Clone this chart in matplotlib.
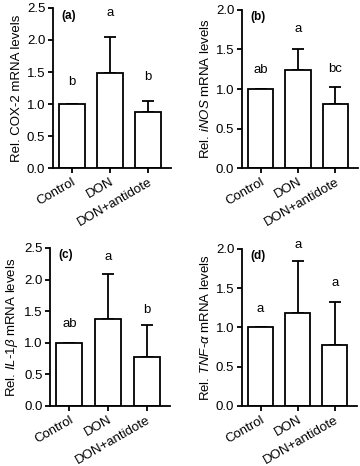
import matplotlib
matplotlib.use("Agg")
import matplotlib.pyplot as plt

plt.rcParams["font.family"] = ["Liberation Sans", "DejaVu Sans"]
plt.rcParams["mathtext.fontset"] = "custom"
plt.rcParams["mathtext.rm"] = "Liberation Sans"
plt.rcParams["mathtext.it"] = "Liberation Sans:italic"
plt.rcParams["mathtext.bf"] = "Liberation Sans:bold"

groups = ["Control", "DON", "DON+antidote"]

# per panel: mean, upper error (SD), significance letters
cox2_mean = [1.0, 1.48, 0.87]
cox2_err = [0.0, 0.57, 0.18]
cox2_letters = ["b", "a", "b"]

inos_mean = [1.0, 1.24, 0.81]
inos_err = [0.0, 0.26, 0.21]
inos_letters = ["ab", "a", "bc"]

il1b_mean = [1.0, 1.37, 0.77]
il1b_err = [0.0, 0.71, 0.51]
il1b_letters = ["ab", "a", "b"]

tnfa_mean = [1.0, 1.18, 0.78]
tnfa_err = [0.0, 0.66, 0.54]
tnfa_letters = ["a", "a", "a"]

# height of each letter (data units)
cox2_letter_y = [1.35, 2.42, 1.42]
inos_letter_y = [1.24, 1.76, 1.25]
il1b_letter_y = [1.30, 2.36, 1.51]
tnfa_letter_y = [1.23, 2.05, 1.56]

panels = [
    ("(a)", r"Rel. COX-2 mRNA levels", cox2_mean, cox2_err, cox2_letters, cox2_letter_y, 2.5,
     [0.147, 0.639, 0.328, 0.344]),
    ("(b)", r"Rel. $\mathit{iNOS}$ mRNA levels", inos_mean, inos_err, inos_letters, inos_letter_y, 2.0,
     [0.672, 0.639, 0.322, 0.340]),
    ("(c)", r"Rel. $\mathit{IL}$-$\mathit{1β}$ mRNA levels", il1b_mean, il1b_err, il1b_letters, il1b_letter_y, 2.5,
     [0.139, 0.129, 0.333, 0.339]),
    ("(d)", r"Rel. $\mathit{TNF}$-$\mathit{α}$ mRNA levels", tnfa_mean, tnfa_err, tnfa_letters, tnfa_letter_y, 2.0,
     [0.672, 0.129, 0.320, 0.337]),
]

fig = plt.figure(figsize=(3.6, 4.66), dpi=100)
x = list(range(len(groups)))
lw = 1.3
fs = 9.5

for tag, ylabel, mean, err, letters, letter_y, ymax, rect in panels:
    ax = fig.add_axes(rect)
    ax.bar(x, mean, 0.67, color="white", edgecolor="black", linewidth=lw, zorder=2)
    ax.errorbar(x, mean, yerr=[[0] * len(err), err], fmt="none", ecolor="black",
                elinewidth=lw, capsize=4, capthick=lw, zorder=1)
    for xi, lab, ly in zip(x, letters, letter_y):
        ax.text(xi, ly, lab, ha="center", va="center", fontsize=fs)
    ax.text(0.07, 0.99, tag, transform=ax.transAxes, ha="left", va="top",
            fontsize=8.5, fontweight="bold")
    ax.set_xlim(-0.5, 2.6)
    ax.set_ylim(0, ymax)
    n = int(ymax / 0.5) + 1
    ax.set_yticks([v * 0.5 for v in range(n)])
    ax.set_yticklabels([f"{v * 0.5:.1f}" for v in range(n)], fontsize=fs)
    ax.set_xticks(x)
    ax.set_xticklabels(groups, rotation=30, ha="right", rotation_mode="anchor", fontsize=fs)
    ax.set_ylabel(ylabel, fontsize=9.5, labelpad=3)
    for side in ("top", "right"):
        ax.spines[side].set_visible(False)
    for side in ("left", "bottom"):
        ax.spines[side].set_linewidth(lw)
    ax.tick_params(width=lw, length=3.5, pad=2)

fig.savefig("out.png", dpi=100)
